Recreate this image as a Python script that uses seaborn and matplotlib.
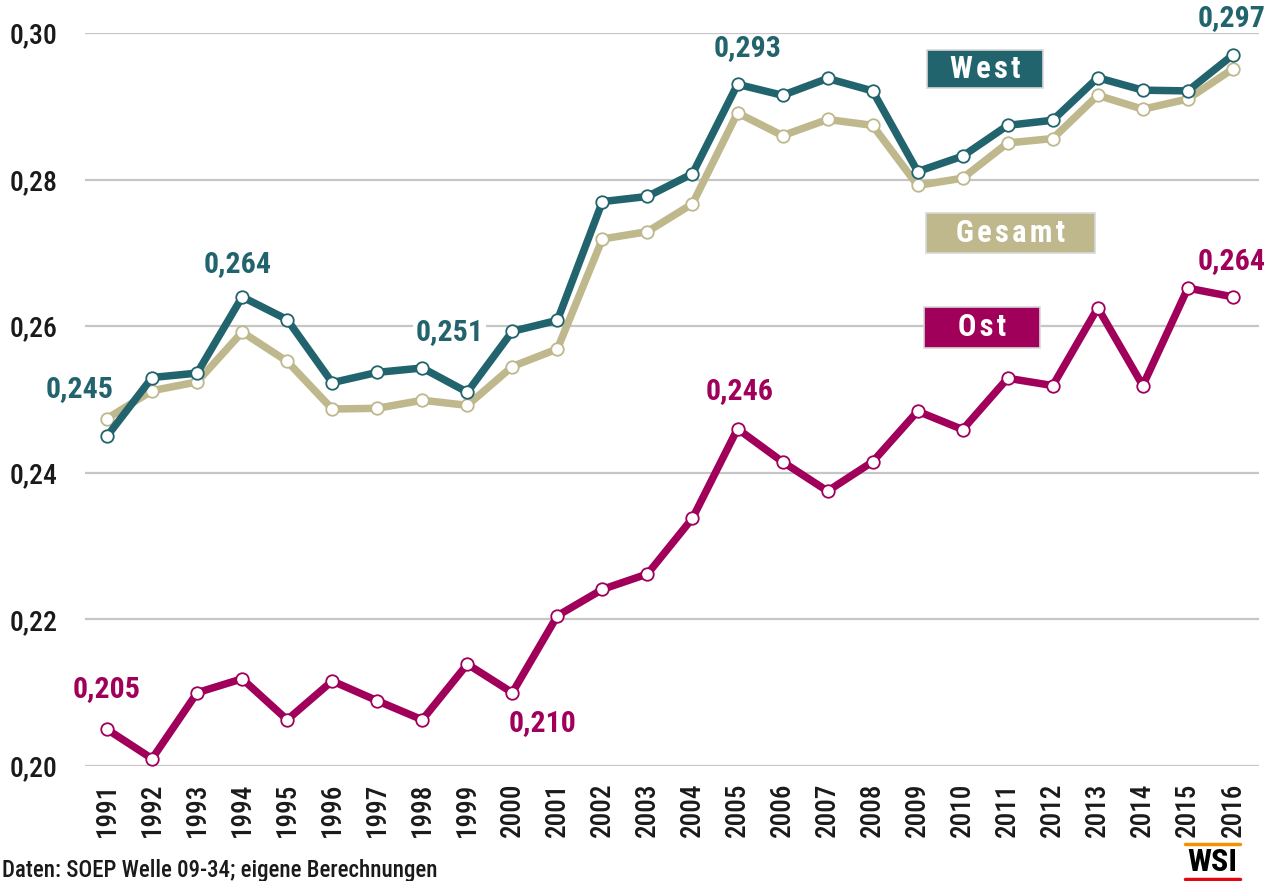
import matplotlib
matplotlib.use("Agg")
import matplotlib.pyplot as plt
import seaborn as sns
import pandas as pd
from matplotlib.patches import Rectangle
from matplotlib.lines import Line2D

# Gini coefficient of household incomes
years = list(range(1991, 2017))
west = [0.245, 0.253, 0.2536, 0.264, 0.2609, 0.2523, 0.2537, 0.2543, 0.251, 0.2593,
        0.2608, 0.277, 0.2777, 0.2808, 0.293, 0.2915, 0.2938, 0.2921, 0.2811, 0.2832,
        0.2874, 0.2881, 0.2939, 0.2922, 0.2921, 0.297]
gesamt = [0.2474, 0.2512, 0.2524, 0.2592, 0.2552, 0.2487, 0.2488, 0.2499, 0.2492, 0.2545,
          0.2569, 0.2719, 0.2729, 0.2767, 0.2891, 0.2860, 0.2882, 0.2874, 0.2792, 0.2802,
          0.2850, 0.2856, 0.2915, 0.2896, 0.291, 0.2951]
ost = [0.205, 0.201, 0.210, 0.2119, 0.2063, 0.2116, 0.2089, 0.2063, 0.2139, 0.210,
       0.2205, 0.2241, 0.2262, 0.2338, 0.246, 0.2415, 0.2375, 0.2415, 0.2484, 0.2459,
       0.2529, 0.2519, 0.2625, 0.2519, 0.2652, 0.264]

series_names = ["Gesamt", "West", "Ost"]
colors = {"West": "#22646D", "Gesamt": "#BEB88C", "Ost": "#A0005A"}
y_ticks = [0.20, 0.22, 0.24, 0.26, 0.28, 0.30]
y_tick_labels = ["0,20", "0,22", "0,24", "0,26", "0,28", "0,30"]
source_text = "Daten: SOEP Welle 09-34; eigene Berechnungen"

# value labels: series, year, pixel offset of label centre from the point
value_labels = [
    ("West", 1991, -27, 47), ("West", 1994, -5, 33), ("West", 1999, -18, 60),
    ("West", 2005, 10, 36), ("West", 2016, -1, 37),
    ("Ost", 1991, 0, 40), ("Ost", 2000, 30, -30), ("Ost", 2005, 2, 38),
    ("Ost", 2016, -1, 36),
]
# key boxes: name, left, top, width, height (pixels)
key_boxes = [("West", 927, 50, 116, 38), ("Gesamt", 926, 213, 169, 40), ("Ost", 924, 307, 116, 41)]

df = pd.DataFrame({
    "Jahr": years * 3,
    "Gini": west + gesamt + ost,
    "Gebiet": ["West"] * len(years) + ["Gesamt"] * len(years) + ["Ost"] * len(years),
})

sns.set_style("white")
plt.rcParams["font.family"] = ["Roboto Condensed", "IBM Plex Sans Condensed", "DejaVu Sans"]

W, H = 1277, 881
fig = plt.figure(figsize=(W / 100, H / 100), dpi=100)
ax = fig.add_axes([85 / W, 1 - 766 / H, (1259 - 85) / W, (766 - 33) / H])

for y in y_ticks:
    ax.axhline(y, color="#c6c6c6", lw=1.6, zorder=0)

for name in series_names:
    sub = df[df["Gebiet"] == name]
    sns.lineplot(data=sub, x="Jahr", y="Gini", ax=ax, color=colors[name], lw=5.4,
                 marker="o", ms=9, mfc="white", mec=colors[name], mew=1.3,
                 clip_on=False, legend=False, zorder=3)

ax.set_xlim(1990.51, 2016.58)
ax.set_ylim(0.20, 0.30)
ax.set_xticks(years)
ax.set_xticklabels([str(y) for y in years], rotation=90, fontsize=19.5,
                   fontweight="medium", color="#1a1a1a")
ax.set_yticks(y_ticks)
ax.set_yticklabels(y_tick_labels, fontsize=20, fontweight="medium", color="#1a1a1a")
ax.tick_params(axis="y", length=0, pad=20)
ax.tick_params(axis="x", length=0, pad=12)
ax.set_xlabel("")
ax.set_ylabel("")
for s in ax.spines.values():
    s.set_visible(False)

lookup = {"West": west, "Gesamt": gesamt, "Ost": ost}
for name, yr, dx, dy in value_labels:
    v = lookup[name][years.index(yr)]
    txt = f"{v:.3f}".replace(".", ",")
    bbox = dict(facecolor="white", edgecolor="none", pad=2) if (name, yr) == ("West", 1999) else None
    ax.annotate(txt, xy=(yr, v), xytext=(dx * 0.72, dy * 0.72), textcoords="offset points",
                ha="center", va="center", fontsize=21.5, fontweight="bold",
                color=colors[name], bbox=bbox, zorder=5)

for name, x0, y0, w, h in key_boxes:
    fig.patches.append(Rectangle((x0 / W, 1 - (y0 + h) / H), w / W, h / H,
                                 transform=fig.transFigure, facecolor=colors[name],
                                 edgecolor="#d8d8d8", lw=1.2, zorder=6))
    fig.text((x0 + w / 2) / W, 1 - (y0 + h / 2) / H, "\u200a".join(name), color="white",
             fontsize=22, fontweight="bold", ha="center", va="center", zorder=7)

fig.text(2 / W, 1 - 870 / H, source_text, fontsize=16.5, fontweight="medium",
         color="#1a1a1a", ha="left", va="center")

# WSI mark
fig.lines.append(Line2D([1185 / W, 1240 / W], [1 - 844 / H, 1 - 844 / H],
                        transform=fig.transFigure, color="#F39200", lw=2.5))
fig.lines.append(Line2D([1185 / W, 1240 / W], [1 - 879 / H, 1 - 879 / H],
                        transform=fig.transFigure, color="#E30613", lw=2.5))
fig.text(1212.5 / W, 1 - 862 / H, "WSI", fontsize=23, fontweight="bold",
         color="black", ha="center", va="center")

fig.savefig("out.png", dpi=100)
